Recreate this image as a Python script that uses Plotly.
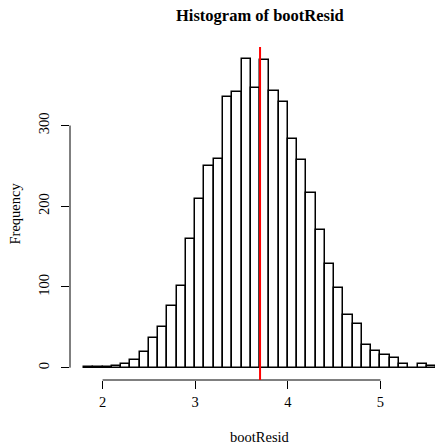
import plotly.graph_objects as go

# Histogram data (bin left edges, counts)
bin_starts = [1.8, 1.9, 2.0, 2.1, 2.2, 2.3, 2.4, 2.5, 2.6, 2.7, 2.8, 2.9,
              3.0, 3.1, 3.2, 3.3, 3.4, 3.5, 3.6, 3.7, 3.8, 3.9,
              4.0, 4.1, 4.2, 4.3, 4.4, 4.5, 4.6, 4.7, 4.8, 4.9,
              5.0, 5.1, 5.2, 5.3, 5.4, 5.5]
counts = [1, 1, 1, 2, 5, 10, 20, 37, 50, 76, 101, 160,
          209, 250, 259, 335, 341, 382, 347, 381, 343, 329,
          283, 257, 216, 170, 129, 99, 65, 54, 28, 21,
          16, 12, 4, 0, 4, 2]
bin_width = 0.1
mean_value = 3.70
x_ticks = [2, 3, 4, 5]
y_ticks = [0, 100, 200, 300]

W, H = 435, 444
ML, MR, MT, MB = 69.7, 0, 47, 64
x_range = [1.648, 5.589]
y_range = [-15.28, 397.28]

FONT = "Liberation Serif"

centers = [b + bin_width / 2 for b in bin_starts]

fig = go.Figure()
fig.add_trace(go.Bar(
    x=centers, y=counts, width=[bin_width] * len(counts),
    marker=dict(color="white", line=dict(color="black", width=1.5)),
    hoverinfo="skip",
))

# R-style axis lines spanning only the tick range
fig.add_shape(type="line", xref="x", yref="paper", x0=x_ticks[0], x1=x_ticks[-1],
              y0=0, y1=0, line=dict(color="black", width=1))
fig.add_shape(type="line", xref="paper", yref="y", x0=0, x1=0,
              y0=y_ticks[0], y1=y_ticks[-1], line=dict(color="black", width=1))
# vertical reference line
fig.add_shape(type="line", xref="x", yref="paper", x0=mean_value, x1=mean_value,
              y0=0, y1=1, line=dict(color="red", width=2))

plot_w = W - ML - MR
center_px = 259.8
cx = (center_px - ML) / plot_w

fig.add_annotation(text="<b>Histogram of bootResid</b>", xref="paper", yref="paper",
                   x=cx, y=1, yshift=32, xanchor="center", yanchor="middle",
                   showarrow=False,
                   font=dict(family=FONT, size=16.5, color="black"))
fig.add_annotation(text="bootResid", xref="paper", yref="paper",
                   x=cx, y=0, yshift=-57, xanchor="center", yanchor="middle",
                   showarrow=False,
                   font=dict(family=FONT, size=14.5, color="black"))
fig.add_annotation(text="Frequency", xref="paper", yref="paper",
                   x=0, xshift=-56, y=0.5, xanchor="center", yanchor="middle",
                   textangle=-90, showarrow=False,
                   font=dict(family=FONT, size=14.5, color="black"))

fig.update_layout(
    width=W, height=H,
    margin=dict(l=ML, r=MR, t=MT, b=MB, pad=0),
    plot_bgcolor="white", paper_bgcolor="white",
    showlegend=False, bargap=0,
    font=dict(family=FONT, size=14.5, color="black"),
    xaxis=dict(range=x_range, tickvals=x_ticks, ticks="outside", ticklen=8,
               tickcolor="black", tickwidth=1, showgrid=False, zeroline=False,
               showline=False, ticklabelstandoff=1,
               tickfont=dict(family=FONT, size=14.5, color="black")),
    yaxis=dict(range=y_range, tickvals=y_ticks, ticks="outside", ticklen=8,
               tickcolor="black", tickwidth=1, showgrid=False, zeroline=False,
               showline=False, tickangle=-90, ticklabelstandoff=6,
               tickfont=dict(family=FONT, size=14.5, color="black")),
)

fig.write_html("out.html")
